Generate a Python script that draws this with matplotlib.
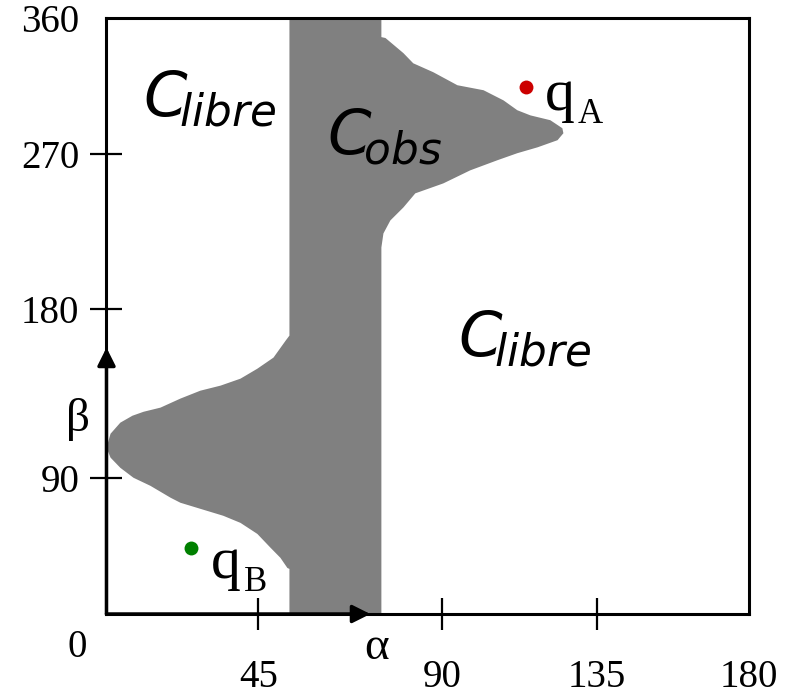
import numpy as np
import matplotlib
matplotlib.use('Agg')
import matplotlib.pyplot as plt

# axis tick values (degrees)
alpha_ticks = [45, 90, 135, 180]
beta_ticks = [90, 180, 270, 360]

# obstacle region C_obs, outline in (alpha, beta) degrees
obs_alpha = [52.6, 75.1, 75.1, 76.1, 80.5, 82.9, 87.8, 94.4, 102.0, 107.8, 111.8,
             115.6, 121.4, 124.9, 125.2, 123.5, 117.7, 111.8, 106.0, 98.1, 90.3,
             83.4, 80.5, 77.3, 75.6, 75.1, 75.1, 52.6,
             52.6, 52.1, 50.4, 48.0, 44.7, 39.7, 34.6, 27.8, 21.9, 19.0, 13.0,
             8.0, 4.1, 1.2, 0.0, 1.2, 4.1, 7.7, 11.0, 16.0, 21.9, 27.8, 33.8,
             39.7, 44.7, 48.7, 51.7, 52.6]
obs_beta = [360, 360, 347.4, 346.8, 336.8, 330.1, 324.2, 315.6, 312.3, 305.6, 299.1,
            295.7, 292.5, 287.2, 283.9, 279.3, 274.6, 270.7, 266.5, 260.6, 253.0,
            247.2, 239.0, 231.4, 223.8, 215.6, 0, 0,
            29.8, 30.4, 37.1, 43.7, 52.9, 60.2, 64.9, 69.5, 73.5, 76.8, 84.7,
            90.0, 95.3, 100.7, 106.0, 113.4, 119.3, 123.0, 125.1, 127.3, 132.1,
            136.3, 139.0, 142.7, 148.0, 153.9, 163.0, 165.6]

# configurations
qA = (114.4, 314.3)
qB = (24.9, 43.7)

# the original axes are hand drawn, ticks are not evenly spaced
alpha_knots = [0, 45, 90, 135, 180]
alpha_frac = [0.0, 0.2364, 0.5226, 0.7636, 1.0]
beta_knots = [0, 90, 180, 270, 360]
beta_frac = [0.0, 0.2286, 0.5126, 0.7714, 1.0]


def piecewise(knots, frac):
    def fwd(v):
        return np.interp(v, knots, frac)

    def inv(f):
        return np.interp(f, frac, knots)
    return fwd, inv


plt.rcParams['font.family'] = 'Liberation Serif'
plt.rcParams['mathtext.fontset'] = 'dejavusans'

fig = plt.figure(figsize=(7.9, 6.96), dpi=100)
ax = fig.add_axes([0.1348, 0.1178, 0.8133, 0.8563])
ax.set_xscale('function', functions=piecewise(alpha_knots, alpha_frac))
ax.set_yscale('function', functions=piecewise(beta_knots, beta_frac))
ax.set_xlim(0, 180)
ax.set_ylim(0, 360)

ax.fill(obs_alpha, obs_beta, color='#808080', lw=0, zorder=2)

ax.plot(*qA, 'o', color='#cc0000', ms=10, mec='none', zorder=4)
ax.plot(*qB, 'o', color='#008000', ms=10, mec='none', zorder=4)

ax.text(119.9, 299.1, 'q', fontsize=43, va='baseline', zorder=5)
ax.text(129.2, 290.5, 'A', fontsize=25, va='baseline', zorder=5)
ax.text(30.8, 23.8, 'q', fontsize=43, va='baseline', zorder=5)
ax.text(40.6, 15.2, 'B', fontsize=25, va='baseline', zorder=5)

ax.text(10.7, 295.8, r'$C_{\!libre}$', fontsize=45, va='baseline', zorder=5)
ax.text(61.9, 270.7, r'$C_{\!obs}$', fontsize=45, va='baseline', zorder=5)
ax.text(94.6, 155.0, r'$C_{\!libre}$', fontsize=45, va='baseline', zorder=5)

# axis arrows
arrow = dict(arrowstyle='-|>,head_length=0.4,head_width=0.2', color='black',
             lw=2.5, shrinkA=0, shrinkB=0, mutation_scale=27)
ax.annotate('', xy=(72.4, 0), xytext=(0, 0), arrowprops=arrow, zorder=6,
            annotation_clip=False)
ax.annotate('', xy=(0, 159.2), xytext=(0, 0), arrowprops=arrow, zorder=6,
            annotation_clip=False)

ax.text(-0.045, 0.326, '\u03b2', transform=ax.transAxes, fontsize=34,
        ha='center', va='center')
ax.text(0.42, -0.057, '\u03b1', transform=ax.transAxes, fontsize=34,
        ha='center', va='center')
ax.text(-0.045, -0.057, '0', transform=ax.transAxes, fontsize=28,
        ha='center', va='center')

ax.set_xticks(alpha_ticks)
ax.set_xticklabels([str(v) for v in alpha_ticks])
ax.set_yticks(beta_ticks)
ax.set_yticklabels([str(v) for v in beta_ticks])
ax.tick_params(direction='inout', length=23, width=1.6, labelsize=28, color='black')
ax.tick_params(axis='x', pad=21)
ax.tick_params(axis='y', pad=8)
ax.xaxis.get_major_ticks()[-1].tick1line.set_visible(False)
ax.yaxis.get_major_ticks()[-1].tick1line.set_visible(False)
ax.minorticks_off()

for s in ax.spines.values():
    s.set_linewidth(2.2)
    s.set_zorder(3)

fig.savefig('out.png', dpi=100)
